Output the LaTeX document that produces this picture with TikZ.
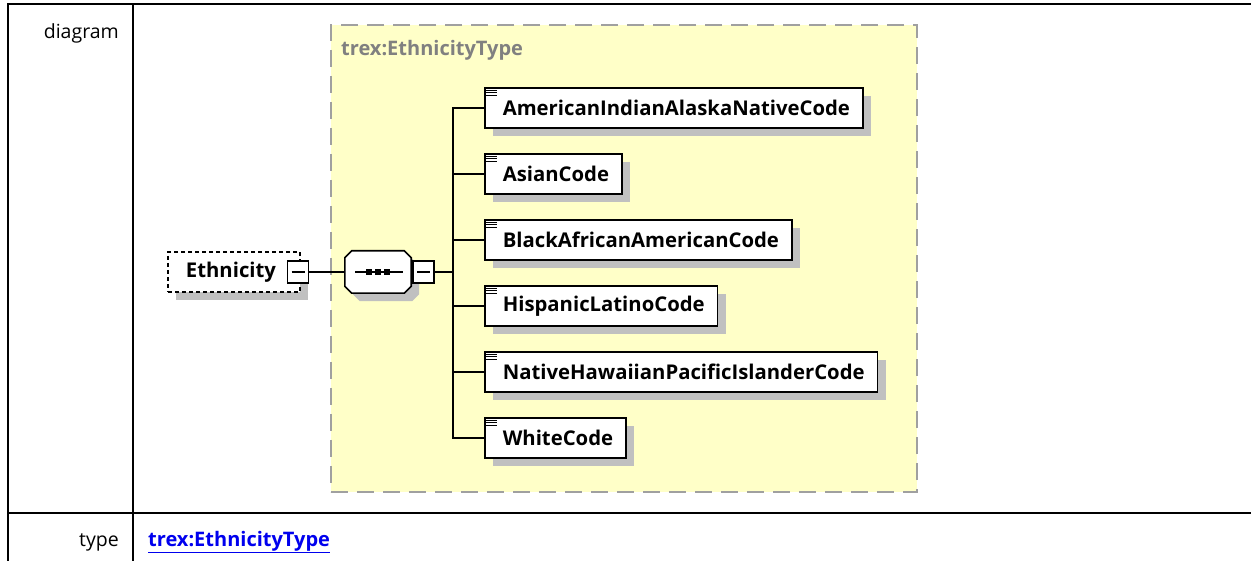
\documentclass[tikz,border=0pt]{standalone}
\usepackage{fontspec}
\setmainfont{Open Sans}
\usetikzlibrary{shadows, positioning}
\definecolor{xsdyellow}{RGB}{255,255,200}
\definecolor{xsdborder}{RGB}{160,160,160}
\definecolor{xsdshadow}{RGB}{192,192,192}
\definecolor{xsdlabel}{RGB}{128,128,128}
\definecolor{xsdlink}{RGB}{0,0,238}
% octagon round a node, chamfer 7pt
\newcommand{\octpath}[1]{([xshift=7pt]#1.north west) -- ([xshift=-7pt]#1.north east)
    -- ([yshift=-7pt]#1.north east) -- ([yshift=7pt]#1.south east)
    -- ([xshift=-7pt]#1.south east) -- ([xshift=7pt]#1.south west)
    -- ([yshift=7pt]#1.south west) -- ([yshift=-7pt]#1.north west) -- cycle}

\begin{document}
\begin{tikzpicture}[x=1pt, y=-1pt,
    tableline/.style={line width=2pt, black},
    celltxt/.style={font=\fontsize{19.5}{23}\selectfont, anchor=east, inner sep=0pt},
    linktxt/.style={font=\fontsize{20}{24}\selectfont\bfseries, text=xsdlink, anchor=west, inner sep=0pt},
    typebox/.style={draw=xsdborder, line width=2pt, dash pattern=on 17pt off 9pt,
        fill=xsdyellow, minimum width=586pt, minimum height=467pt, inner sep=0pt},
    typename/.style={font=\fontsize{20}{24}\selectfont\bfseries, text=xsdlabel, anchor=west, inner sep=0pt},
    shade/.style={drop shadow={shadow xshift=8pt, shadow yshift=-8pt, fill=xsdshadow, opacity=1}},
    elem/.style={draw=black, line width=1.6pt, fill=white, shade, anchor=west,
        minimum height=40pt, inner xsep=13pt, inner ysep=0pt,
        font=\fontsize{20.3}{24}\selectfont\bfseries},
    optelem/.style={draw=black, line width=1.4pt, dash pattern=on 4pt off 3pt, fill=white, shade,
        minimum width=132pt, minimum height=40pt, inner sep=0pt,
        font=\fontsize{20.3}{24}\selectfont\bfseries},
    seqhold/.style={minimum width=66pt, minimum height=42pt, inner sep=0pt},
    minusbox/.style={draw=black, line width=1.4pt, fill=white, minimum width=21pt,
        minimum height=22pt, inner sep=0pt,
        path picture={\draw[line width=1.2pt] ([xshift=4pt]path picture bounding box.west)
            -- ([xshift=-4pt]path picture bounding box.east);}},
    conn/.style={line width=1.6pt, black},
]
\useasboundingbox (0,0) rectangle (1251,561);

% ================= table frame =================
\draw[tableline] (8,561) -- (8,4) -- (1251,4);
\draw[tableline] (133,4) -- (133,561);
\draw[tableline] (8,513) -- (1251,513);
\node[celltxt] (diaglbl) at (119,33) {diagram};
\node[celltxt] (typelbl) at (119,542) {type};
\node[linktxt] (typelink) at (148,542) {\underline{trex:EthnicityType}};

% ================= complex type =================
\node[typebox] (ethtype) at (624,258.5) {};
\node[typename] (ethtypename) at (341,50) {trex:EthnicityType};

% ================= element and sequence =================
\node[optelem] (ethnicity) at (234,272) {Ethnicity\hspace*{6pt}};
\node[minusbox] (ethminus) at (298,272) {};

\node[seqhold] (seq) at (378,272) {};
\node[seqhold] (seqshade) at ([xshift=8pt,yshift=-8pt]seq.center) {};
\fill[xsdshadow] \octpath{seqshade};
\draw[line width=1.6pt, fill=white] \octpath{seq};
\draw[line width=1.4pt] ([xshift=-23pt]seq.center) -- ([xshift=25pt]seq.center);
\foreach \dx in {-9,0,9}{
    \fill ([xshift=\dx pt-3pt,yshift=3pt]seq.center) rectangle ++(6,6);
}
\node[minusbox] (seqminus) at (423.5,272) {};
\coordinate (fork) at (453,272);

\draw[conn] (ethminus.east) -- (seq.west);
\draw[conn] (seqminus.east) -- (fork);

% ================= children =================
\foreach \lbl/\nm [count=\i from 0] in {
    AmericanIndianAlaskaNativeCode/amind,
    AsianCode/asian,
    BlackAfricanAmericanCode/black,
    HispanicLatinoCode/hisp,
    NativeHawaiianPacificIslanderCode/nhpi,
    WhiteCode/white}{
    \node[elem] (\nm) at (484,{108+66*\i}) {\hspace*{5pt}\lbl};
    \foreach \dy in {3,5.5,8}{
        \draw[line width=1.3pt] ([xshift=2pt,yshift=-\dy pt]\nm.north west) -- ++(11,0);
    }
    \draw[conn] (\nm.west) -| (fork);
}

\end{tikzpicture}
\end{document}
